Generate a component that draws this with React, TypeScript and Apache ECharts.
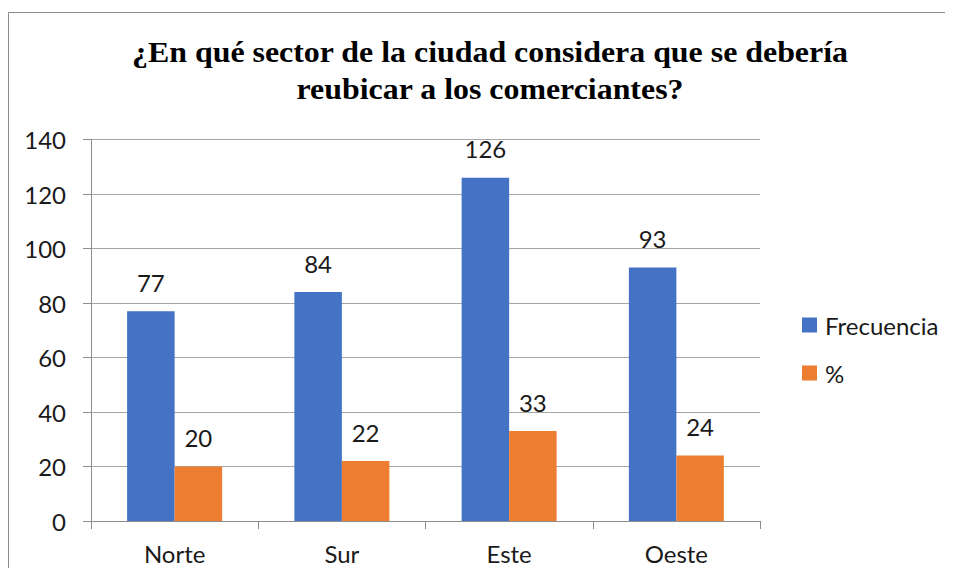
import React, { useEffect, useRef } from "react";
import * as echarts from "echarts";

const categories = ["Norte", "Sur", "Este", "Oeste"];
const frecuencia = [77, 84, 126, 93];
const porcentaje = [20, 22, 33, 24];
const seriesNames = ["Frecuencia", "%"];
const titleLines = [
  "¿En qué sector de la ciudad considera que se debería",
  "reubicar a los comerciantes?",
];

export default function App() {
  const ref = useRef<HTMLDivElement>(null);
  useEffect(() => {
    if (!ref.current) return;
    document.documentElement.style.overflow = "hidden";
    document.body.style.overflow = "hidden";
    const chart = echarts.init(ref.current, null, { renderer: "svg" });
    const font = "Lato";
    const labelStyle = {
      show: true,
      position: "top" as const,
      distance: 17,
      fontFamily: font,
      fontSize: 24,
      color: "#1a1a1a",
    };
    chart.setOption({
      animation: false,
      graphic: [
        {
          type: "line",
          shape: { x1: 0.5, y1: 4.5, x2: 937, y2: 4.5 },
          style: { stroke: "#8c8c8c", lineWidth: 1 },
          silent: true,
        },
        {
          type: "line",
          shape: { x1: 0.5, y1: 4.5, x2: 0.5, y2: 560 },
          style: { stroke: "#8c8c8c", lineWidth: 1 },
          silent: true,
        },
        ...titleLines.map((t, i) => ({
          type: "text",
          x: 482,
          y: 44 + i * 37,
          scaleX: 1.1,
          silent: true,
          style: {
            text: t,
            fontFamily: "Liberation Serif",
            fontWeight: "bold",
            fontSize: 29,
            fill: "#000000",
            textAlign: "center",
            verticalAlign: "middle",
          },
        })),
      ],
      legend: {
        orient: "vertical",
        left: 789,
        top: 300,
        itemWidth: 15,
        itemHeight: 15,
        itemGap: 24,
        icon: "rect",
        textStyle: {
          fontFamily: font,
          fontSize: 24,
          lineHeight: 24,
          color: "#1a1a1a",
          padding: [0, 0, 0, 3],
        },
        data: seriesNames,
      },
      grid: { left: 83, top: 131.5, right: 185, bottom: 47, containLabel: false },
      xAxis: {
        type: "category",
        data: categories,
        axisLine: { lineStyle: { color: "#8c8c8c", width: 1 } },
        axisTick: { show: true, length: 8, lineStyle: { color: "#8c8c8c" } },
        axisLabel: { fontFamily: font, fontSize: 24, color: "#1a1a1a", margin: 20 },
      },
      yAxis: {
        type: "value",
        min: 0,
        max: 140,
        interval: 20,
        axisLine: { show: true, lineStyle: { color: "#8c8c8c", width: 1 } },
        axisTick: { show: true, length: 8, lineStyle: { color: "#8c8c8c" } },
        splitLine: { show: true, lineStyle: { color: "#a6a6a6", width: 1 } },
        axisLabel: { fontFamily: font, fontSize: 24, color: "#1a1a1a", margin: 25 },
      },
      series: [
        {
          name: seriesNames[0],
          type: "bar",
          data: frecuencia,
          barWidth: 47.5,
          barGap: "0%",
          itemStyle: { color: "#4472C4" },
          label: labelStyle,
        },
        {
          name: seriesNames[1],
          type: "bar",
          data: porcentaje,
          barWidth: 47.5,
          barGap: "0%",
          itemStyle: { color: "#ED7D31" },
          label: labelStyle,
        },
      ],
    });
    return () => chart.dispose();
  }, []);
  return <div ref={ref} style={{ width: 937, height: 560 }} />;
}
